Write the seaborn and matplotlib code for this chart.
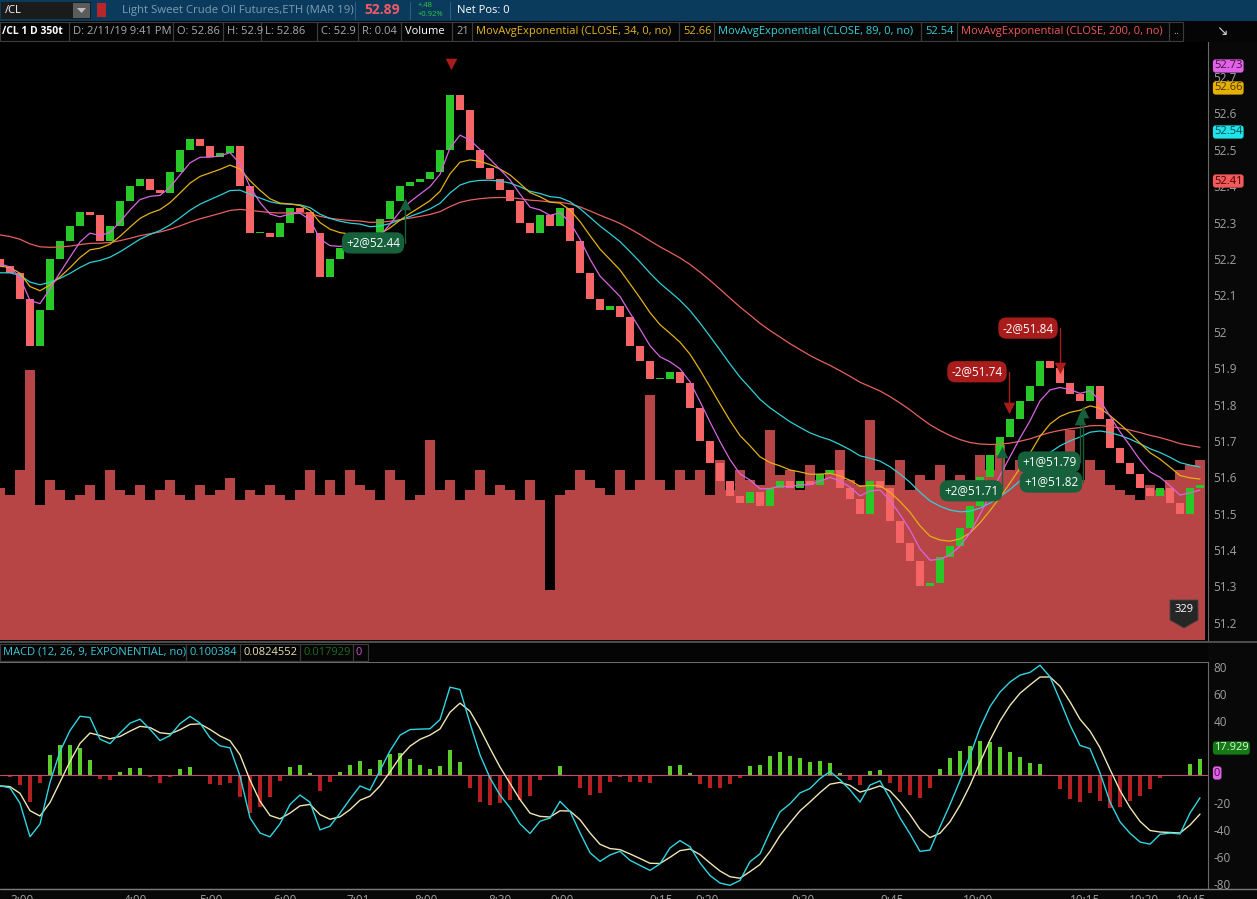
import numpy as np
import pandas as pd
import seaborn as sns
import matplotlib.pyplot as plt
from matplotlib.patches import Rectangle, Polygon

W, H = 1257, 899

# closes of the 350 tick bars (one value per bar shown)
closes = [52.18, 52.16, 52.09, 51.96, 52.06, 52.20, 52.25, 52.29, 52.33, 52.32,
          52.25, 52.29, 52.36, 52.40, 52.42, 52.39, 52.38, 52.44, 52.50, 52.53,
          52.51, 52.48, 52.49, 52.51, 52.40, 52.27, 52.27, 52.26, 52.30, 52.34,
          52.33, 52.27, 52.15, 52.20, 52.23, 52.25, 52.27, 52.22, 52.31, 52.36,
          52.40, 52.41, 52.42, 52.44, 52.50, 52.65, 52.61, 52.50, 52.45, 52.42,
          52.39, 52.36, 52.30, 52.27, 52.32, 52.29, 52.34, 52.25, 52.16, 52.09,
          52.06, 52.07, 52.04, 51.96, 51.92, 51.87, 51.87, 51.89, 51.86, 51.79,
          51.70, 51.64, 51.59, 51.55, 51.53, 51.56, 51.52, 51.57, 51.59, 51.57,
          51.59, 51.58, 51.61, 51.62, 51.57, 51.54, 51.50, 51.59, 51.57, 51.48,
          51.42, 51.37, 51.30, 51.31, 51.38, 51.41, 51.46, 51.52, 51.60, 51.66,
          51.71, 51.76, 51.81, 51.85, 51.92, 51.90, 51.86, 51.83, 51.81, 51.85,
          51.76, 51.68, 51.64, 51.61, 51.57, 51.55, 51.57, 51.53, 51.50, 51.57,
          51.58]
first_open = 52.20

volumes = [278, 265, 311, 494, 247, 293, 275, 256, 265, 284,
           256, 311, 275, 265, 284, 256, 275, 293, 265, 256,
           284, 265, 275, 296, 256, 275, 265, 284, 265, 256,
           275, 311, 265, 293, 265, 311, 284, 275, 256, 311,
           293, 256, 265, 366, 275, 293, 256, 275, 311, 265,
           284, 275, 256, 293, 256, 92, 265, 275, 311, 293,
           278, 265, 311, 275, 293, 448, 293, 275, 311, 293,
           311, 265, 329, 275, 311, 293, 284, 384, 302, 311,
           275, 320, 293, 311, 348, 293, 284, 403, 311, 284,
           329, 275, 302, 293, 320, 275, 302, 293, 339, 311,
           357, 311, 329, 339, 311, 329, 311, 384, 293, 329,
           311, 284, 275, 265, 256, 284, 275, 293, 311, 320,
           329]

# moving averages (spans rescaled to the bar count shown) and their starting values
ema_spans = [5, 10, 20, 45]
ema_seeds = [52.19, 52.18, 52.16, 52.27]
macd_fast, macd_slow, macd_sig = 4, 7.5, 4

tick_bars = [2.2, 13.5, 21.1, 28.5, 35.8, 42.6, 50.0, 56.2, 66.1, 70.7, 80.3, 89.2, 97.8, 108.5, 114.4, 119.1]
tick_labels = ['3:00', '4:00', '5:00', '6:00', '7:01', '8:00', '8:30', '9:00',
               '9:15', '9:20', '9:30', '9:45', '10:00', '10:15', '10:30', '10:45']

# trades: text, arrow bar, arrow price, label bar, label price
trade_text = ['+2@52.44', '-2@51.74', '-2@51.84', '+2@51.71', '+1@51.79', '+1@51.82']
trade_bar = [40.5, 100.9, 106.0, 100.2, 108.0, 108.3]
trade_price = [52.35, 51.79, 51.90, 51.67, 51.76, 51.78]
label_bar = [37.3, 97.7, 102.8, 97.1, 104.9, 105.1]
label_price = [52.244, 51.89, 52.01, 51.563, 51.642, 51.587]


def ema(values, span, seed):
    s = pd.Series([seed] + list(values))
    return s.ewm(span=span, adjust=False).mean().iloc[1:].to_numpy()


def px(x, y):
    return x / W, 1 - y / H


sns.set_style('dark', {'axes.facecolor': 'black', 'figure.facecolor': '#080808'})
plt.rcParams['font.family'] = ['Open Sans', 'DejaVu Sans']

closes = np.array(closes)
bars = np.arange(len(closes))
opens = np.r_[first_open, closes[:-1]]
up = closes >= opens

fig = plt.figure(figsize=(W / 100, H / 100), dpi=100)
fig.patch.set_facecolor('#080808')

main_rect = [0, 1 - 640 / H, 1208 / W, 598 / H]
ax_vol = fig.add_axes(main_rect)
ax = fig.add_axes(main_rect)
ax.set_facecolor('none')
ax_vol.set_facecolor('black')

xmax = 120.8
# volume
ax_vol.bar(bars, volumes, width=1.0, color='#b84545', linewidth=0)
ax_vol.set_xlim(0, xmax)
ax_vol.set_ylim(0, 1094)
ax_vol.set_xticks([])
ax_vol.set_yticks([])
for s in ax_vol.spines.values():
    s.set_visible(False)

# candles
body = np.maximum(np.abs(closes - opens), 0.004)
bottom = np.minimum(opens, closes)
ax.bar(bars, body, bottom=bottom, width=0.75,
       color=np.where(up, '#27c827', '#f56565'), linewidth=0, zorder=3)

# moving averages
ema_colors = ['#d866e0', '#e4b015', '#2fd0d6', '#e86060']
for span, seed, col in zip(ema_spans[::-1], ema_seeds[::-1], ema_colors[::-1]):
    sns.lineplot(x=bars, y=ema(closes, span, seed), ax=ax, color=col, lw=0.9, zorder=4)

ax.set_xlim(0, xmax)
ax.set_ylim(51.153, 52.796)
ax.yaxis.tick_right()
pticks = np.round(np.arange(51.2, 52.75, 0.1), 1)
ax.set_yticks(pticks)
ax.set_yticklabels(['%g' % v for v in pticks])
ax.tick_params(axis='y', length=0, pad=4, labelsize=8.5, labelcolor='#a0a0a0')
ax.set_xticks([])
for s in ax.spines.values():
    s.set_visible(False)
ax.spines['right'].set_visible(True)
ax.spines['right'].set_color('#6a6a6a')
ax.grid(False)
ax_vol.grid(False)

# trade markers
for t, tb, tp, lb, lp in zip(trade_text, trade_bar, trade_price, label_bar, label_price):
    sell = t.startswith('-')
    col = '#a81c1c' if sell else '#17603c'
    ax.plot([tb, tb], [lp, tp], color=col, lw=1, zorder=5)
    ax.scatter([tb], [tp], marker='v' if sell else '^', s=70, color=col, zorder=6, linewidths=0)
    ax.text(lb, lp, t, color='white', fontsize=8.5, ha='center', va='center', zorder=7,
            bbox=dict(boxstyle='round,pad=0.35,rounding_size=0.7', fc=col, ec='none'))
ax.scatter([45.1], [52.735], marker='v', s=70, color='#a81c1c', zorder=6, linewidths=0)

# MACD panel
macd = (ema(closes, macd_fast, 52.18) - ema(closes, macd_slow, 52.19)) * 1000
signal = ema(macd, macd_sig, macd[0])
hist = macd - signal

ax_m = fig.add_axes([0, 1 - 888 / H, 1208 / W, 226 / H])
ax_m.set_facecolor('black')
ax_m.bar(bars, hist, width=0.35, color=np.where(hist >= 0, '#5ccc2c', '#b41f1f'), linewidth=0)
ax_m.axhline(0, color='#c04a70', lw=0.8)
sns.lineplot(x=bars, y=signal, ax=ax_m, color='#efe6b2', lw=1.0)
sns.lineplot(x=bars, y=macd, ax=ax_m, color='#2fd6e2', lw=1.0)
ax_m.set_xlim(0, xmax)
ax_m.set_ylim(-83, 83.7)
ax_m.yaxis.tick_right()
mticks = list(range(-80, 81, 20))
ax_m.set_yticks(mticks)
# 20 and 0 sit under the value bubbles
ax_m.set_yticklabels(['' if v in (0, 20) else str(v) for v in mticks])
ax_m.tick_params(axis='y', length=0, pad=4, labelsize=8.5, labelcolor='#a0a0a0')
ax_m.set_xticks(tick_bars)
ax_m.set_xticklabels(tick_labels)
ax_m.tick_params(axis='x', length=0, pad=4, labelsize=8.5, labelcolor='#a0a0a0')
ax_m.grid(False)
for s in ax_m.spines.values():
    s.set_visible(False)
for k in ['right', 'top']:
    ax_m.spines[k].set_visible(True)
    ax_m.spines[k].set_color('#6a6a6a')

# bottom axis line and panel separator
fig.add_artist(plt.Line2D([0, 1], [1 - 889 / H] * 2, color='#7a7a7a', lw=1))
fig.add_artist(plt.Line2D([0, 1], [1 - 641.5 / H] * 2, color='#5a5a5a', lw=1.2))


def box(x0, y0, x1, y1, fc, ec='none', lw=0.8):
    fig.add_artist(Rectangle(px(x0, y1), (x1 - x0) / W, (y1 - y0) / H,
                             transform=fig.transFigure, fc=fc, ec=ec, lw=lw))


def txt(x, y, s, color, size=8, weight='normal', ha='left'):
    fig.text(*px(x, y), s, color=color, fontsize=size, fontweight=weight, ha=ha, va='center')


# top symbol bar
box(0, 0, W, 20.5, '#0b3b5c')
box(1, 2, 91, 19, '#1b1b1b')
box(73, 3, 90, 18, '#5c5c5c')
fig.add_artist(Polygon([px(77, 8), px(86, 8), px(81.5, 13)], closed=True,
                       transform=fig.transFigure, fc='#bdbdbd', ec='none'))
box(97, 3, 106, 17, '#b8252b')
txt(5, 10.5, '/CL', 'white')
txt(122, 10.5, 'Light Sweet Crude Oil Futures,ETH (MAR 19)', '#7f9bb4', 8.2)
for xx in [355, 410, 450]:
    fig.add_artist(plt.Line2D([xx / W] * 2, [1 - 2 / H, 1 - 19 / H], color='#2a5f80', lw=0.8))
txt(364, 10.5, '52.89', '#ef5a64', 10, 'bold')
txt(418, 5.5, '+.48', '#2ecc40', 5.5)
txt(418, 15, '+0.92%', '#2ecc40', 5.5)
txt(457, 10.5, 'Net Pos: 0', 'white')

# study header row
box(0, 21, 1257, 42, '#050505')
cells = [(0, 69, '/CL 1 D 350t', 'white'), (69, 173, 'D: 2/11/19 9:41 PM', '#aaaaaa'),
         (173, 223, 'O: 52.86', '#aaaaaa'), (223, 261, 'H: 52.9', '#aaaaaa'),
         (261, 317, 'L: 52.86', '#aaaaaa'), (317, 358, 'C: 52.9', '#aaaaaa'),
         (358, 401, 'R: 0.04', '#aaaaaa'), (401, 452, 'Volume', 'white'),
         (452, 472, '21', '#aaaaaa'),
         (472, 679, 'MovAvgExponential (CLOSE, 34, 0, no)', '#e2b51e'), (679, 714, '52.66', '#e2b51e'),
         (714, 921, 'MovAvgExponential (CLOSE, 89, 0, no)', '#35d0d6'), (921, 957, '52.54', '#35d0d6'),
         (957, 1169, 'MovAvgExponential (CLOSE, 200, 0, no)', '#ee5a5a'), (1169, 1183, '..', '#aaaaaa')]
for x0, x1, s, c in cells:
    box(x0, 22, x1, 41, 'none', '#3c3c3c')
    if s.startswith('/CL'):
        txt(x0 + 2, 31.5, s, c, 7.5, 'bold')
    else:
        txt(x0 + 4, 31.5, s, c)
txt(1216, 31.5, '↘', '#cfcfcf', 10)

# MACD header row
box(0, 643, 1208, 662, '#050505')
mcells = [(0, 186, 'MACD (12, 26, 9, EXPONENTIAL, no)', '#3cc8d8'), (186, 240, '0.100384', '#3cc8d8'),
          (240, 300, '0.0824552', '#e8e0b0'), (300, 353, '0.017929', '#1f6b1f'), (353, 368, '0', '#d050d0')]
for x0, x1, s, c in mcells:
    box(x0, 644, x1, 661, 'none', '#3c3c3c')
    txt(x0 + 3, 652.5, s, c)

# value bubbles on the price scale
bubbles = [(66, '52.73', '#e063e6', '#4a0a4a'), (88, '52.66', '#e6b000', '#4a3300'),
           (132, '52.54', '#1fe3e8', '#004a4a'), (181, '52.41', '#f05a5a', '#4a0000'),
           (748, '17.929', '#157a15', '#d8f5d8'), (773, '0', '#e060e8', '#4a0a4a')]
for yy, s, fc, tc in bubbles:
    fig.text(*px(1214, yy), s, color=tc, fontsize=8, ha='left', va='center',
             bbox=dict(boxstyle='round,pad=0.1,rounding_size=0.25', fc=fc, ec='none'))

# last volume tag
fig.add_artist(Polygon([px(1170, 600), px(1198, 600), px(1198, 620), px(1184, 628), px(1170, 620)],
                       closed=True, transform=fig.transFigure, fc='#262626', ec='#444444', lw=0.6))
txt(1184, 610, '329', 'white', 8, ha='center')

fig.savefig('out.png', dpi=100, facecolor=fig.get_facecolor())
